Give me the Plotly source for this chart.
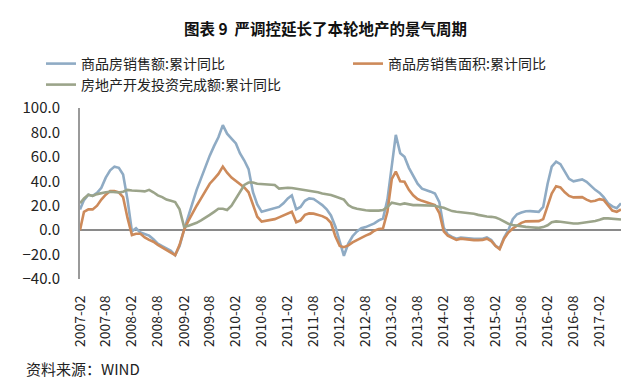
import pandas as pd
import plotly.graph_objects as go

months = pd.date_range("2007-02-01", periods=126, freq="MS")

sales_amount = [
    17, 24.6, 29, 28, 30.5, 34.7, 43, 49, 52, 51,
    45.6, 25, -1, 1.5, -2, -3.5, -4.5, -7.5, -11, -13,
    -15, -17, -20.5, -13, 0, 11.5, 22, 33, 43, 52,
    61, 69, 76, 86, 79, 75, 71, 63, 57, 50,
    31, 21, 15, 16, 17, 18, 19, 22, 26, 28.5,
    17, 19, 24, 26, 25.5, 23, 20.5, 17, 12, 3,
    -10, -21, -11, -5, -1, 1.5, 2.5, 4, 5.5, 8,
    9.5, 25, 54, 78, 63, 60, 51, 44, 38, 34,
    33, 31.5, 30, 23, 2, -3.5, -5.5, -7, -6, -6.5,
    -7, -7, -7, -7, -6, -8, -13, -15, -6, 0,
    9, 13, 14.5, 15.5, 15.6, 15.5, 15, 19, 38, 52,
    56, 54, 48, 42, 40, 40.5, 41.5, 39.5, 36, 33,
    30.5, 27, 22, 19.5, 18, 22,
]

sales_area = [
    0, 15, 17, 17, 20, 25, 29, 32, 32, 31,
    27, 10, -4, -3, -3, -6, -8, -9.5, -12, -14,
    -16, -18, -20.5, -12, 0, 7, 14, 20, 26, 32,
    38, 42, 46, 52, 47, 43, 40, 38, 35, 31,
    20, 11, 7, 7.5, 8, 9, 10.5, 12, 13.5, 15,
    6.5, 8, 12.5, 13.7, 13.5, 12.8, 11.5, 9.6, 6, -5,
    -13, -14, -12.5, -10, -8, -6, -4.5, -3, -0.5, 1,
    1.4, 15, 42, 48, 40, 39.6, 33, 28.5, 25.5, 24,
    23, 21.5, 20.5, 14, -1, -4.5, -6.5, -8, -7, -7.5,
    -8.2, -8.2, -8.2, -8, -7, -9, -13, -15.5, -7, -2,
    1.4, 4, 6, 7.2, 7.4, 7.4, 7.4, 9, 20, 30,
    36, 35, 31, 28, 26.8, 27, 27, 25, 23.5, 24,
    25.4, 24.8, 20, 16, 15, 17,
]

investment = [
    22, 26, 29, 28, 29.5, 30.5, 31, 31.4, 31, 30.8,
    31.5, 33, 32.5, 32, 32, 31.7, 33, 31, 28.5, 27,
    25, 24, 23, 17, 3, 3.5, 4.6, 6, 8, 10,
    12.5, 15, 17.5, 17.5, 16.5, 20, 26, 32, 37, 39,
    39, 38, 37.8, 37.4, 37.2, 36.9, 34, 34.5, 34.7, 34.5,
    34, 33.5, 33, 32.5, 32, 31, 30, 29.5, 28.7, 27.5,
    26.5, 25, 20.5, 18.5, 17.5, 16.8, 16.3, 16, 15.8, 16,
    16.4, 19, 22.5, 21.5, 21, 21.9, 21.2, 20.5, 20.5, 20.5,
    20.5, 20.3, 20, 19, 18.3, 17, 15.6, 15, 14.7, 14.5,
    14, 13.4, 12.5, 11.7, 11.2, 10.9, 10.3, 9, 6.8, 5.3,
    4.2, 3.6, 3.2, 2.7, 2.4, 2, 1.9, 2.5, 4, 6.5,
    7.2, 6.9, 6.5, 5.6, 5.5, 5.5, 6, 6.3, 6.8, 7.5,
    8.5, 9.6, 9.6, 9.3, 8.9, 8.7,
]

series_names = ["商品房销售额:累计同比", "商品房销售面积:累计同比", "房地产开发投资完成额:累计同比"]
series_colors = ["#8FABC4", "#CD8A5A", "#9BA48A"]
series_legends = ["legend", "legend2", "legend3"]
tick_dates = pd.date_range("2007-02-01", "2017-02-01", freq="6MS")
tick_labels = [d.strftime("%Y-%m") for d in tick_dates]
y_ticks = [-40, -20, 0, 20, 40, 60, 80, 100]

FONT = "Noto Sans CJK SC"
W, H = 640, 378
L, R, T, B = 72, 27, 100, 107
PW, PH = W - L - R, H - T - B


def px(xp):
    return (xp - L) / PW


def py(yp):
    return (H - B - yp) / PH


fig = go.Figure()
for name, vals, col, lg in zip(series_names, [sales_amount, sales_area, investment],
                               series_colors, series_legends):
    fig.add_trace(go.Scatter(x=months, y=vals, mode="lines", name=name, legend=lg,
                             line=dict(color=col, width=2.6)))

legend_common = dict(orientation="v", xanchor="left", yanchor="top",
                     font=dict(size=14, color="#222", family=FONT),
                     bgcolor="rgba(0,0,0,0)", tracegroupgap=0, itemwidth=30)

fig.update_layout(
    width=W, height=H,
    margin=dict(l=L, r=R, t=T, b=B, autoexpand=False),
    paper_bgcolor="white", plot_bgcolor="white",
    font=dict(family=FONT, color="#222"),
    title=dict(text="<b>图表 9  严调控延长了本轮地产的景气周期</b>",
               x=317.5 / W, xanchor="center", y=1 - 21.5 / H, yanchor="middle",
               font=dict(size=15.5, color="#111", family=FONT)),
    legend=dict(x=px(33), y=py(40), **legend_common),
    legend2=dict(x=px(340), y=py(40), **legend_common),
    legend3=dict(x=px(33), y=py(61), **legend_common),
    showlegend=True,
    xaxis=dict(range=[months[0], months[-1]], tickvals=list(tick_dates), ticktext=tick_labels,
               tickangle=-90, tickfont=dict(size=14, color="#222", family=FONT),
               showgrid=False, showline=False, zeroline=False,
               ticks="outside", ticklen=10, tickcolor="rgba(0,0,0,0)"),
    yaxis=dict(range=[-40, 100], tickvals=y_ticks, tickformat=".1f",
               tickfont=dict(size=15, color="#222", family=FONT),
               showgrid=False, showline=True, linecolor="#9A9A9A", linewidth=2,
               zeroline=True, zerolinecolor="#8A8A8A", zerolinewidth=1.5,
               ticks="outside", ticklen=15, tickcolor="rgba(0,0,0,0)"),
)

fig.add_annotation(text="资料来源：WIND", xref="paper", yref="paper",
                   x=px(16), y=py(360), xanchor="left", yanchor="middle",
                   showarrow=False, font=dict(size=15, color="#222", family=FONT))

fig.write_html("out.html")
